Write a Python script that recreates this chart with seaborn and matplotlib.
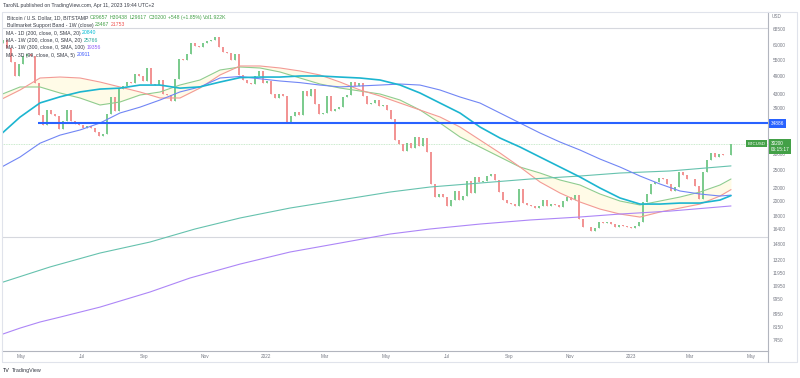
import numpy as np
import pandas as pd
import seaborn as sns
import matplotlib.pyplot as plt
import matplotlib.dates as mdates
from matplotlib.transforms import blended_transform_factory
from matplotlib.lines import Line2D
from matplotlib.ticker import FixedLocator, NullLocator, FixedFormatter

# BTCUSD (BITSTAMP) closes, one every 4 days from 2021-04-13 to 2023-04-11
close = [63500, 60000, 54000, 49000, 53500, 56500, 57500, 56500, 46500, 37000,
         34500, 38500, 37300, 36800, 33500, 35500, 38500, 35500, 34700, 34500,
         33800, 34200, 33800, 32800, 31800, 32300, 37300, 42000, 38200, 44600,
         45600, 47000, 46700, 49500, 49000, 47100, 51800, 46100, 46000, 47700,
         43000, 42700, 41000, 48000, 55300, 54700, 57400, 62000, 60700, 60300,
         61900, 62900, 63300, 64900, 60100, 58100, 57600, 54800, 57200, 49400,
         47600, 46700, 46200, 48900, 50800, 46500, 47300, 43100, 41800, 43100,
         42300, 35100, 36900, 37900, 37000, 43900, 42400, 44500, 40000, 37300,
         37700, 42500, 38100, 38800, 39300, 42200, 42900, 46800, 45500, 46600,
         42300, 40100, 40500, 41400, 39500, 39700, 38500, 36000, 31000, 30100,
         28700, 30300, 29200, 31700, 29700, 31400, 28400, 22600, 20600, 21100,
         20700, 19300, 20200, 21600, 20200, 20800, 23200, 21300, 23800, 23000,
         23200, 23900, 24300, 23300, 21400, 20200, 19800, 19600, 19300, 21800,
         19700, 19500, 19300, 19100, 19300, 20200, 19400, 19600, 19500, 19200,
         20100, 20600, 20200, 21000, 17600, 16600, 16700, 16200, 16500, 17200,
         17100, 17200, 17000, 16600, 16900, 16800, 16600, 16500, 16800, 17200,
         19900, 21100, 22700, 22900, 23700, 23500, 22700, 21600, 22200, 24600,
         24200, 23500, 23400, 22400, 20300, 24700, 26900, 28300, 27500, 28000,
         27800, 27900, 30200]
first_open = 62000
candle_dates = pd.date_range('2021-04-13', periods=len(close), freq='4D')

# moving averages, read every 20 days from 2021-04-10 plus the last bar
ma_dates = pd.date_range('2021-04-10', periods=37, freq='20D').append(
    pd.DatetimeIndex(['2023-04-11']))
ma_1d_200 = [32100, 36500, 40400, 42200, 43700, 44600, 44900, 45900, 45900, 44900,
             45300, 46900, 48400, 48600, 48600, 48970, 48970, 48600, 48270, 47590,
             45920, 43370, 40370, 37590, 34020, 31440, 29490, 27450, 25560, 23800,
             22000, 20490, 19620, 19620, 19760, 19760, 20190, 20840]
ma_3d_99 = [25400, 27450, 30300, 32100, 33300, 35000, 37600, 39200, 41250, 43700,
            45300, 48270, 48800, 48000, 47250, 46700, 45900, 45300, 45600, 45900,
            46240, 45900, 44310, 42150, 40370, 37590, 35000, 32590, 30560, 28860,
            27060, 25560, 23970, 22640, 21540, 21080, 20780, 20911]
band_sma = [42750, 45270, 45270, 43370, 41850, 39810, 40670, 42750, 43680, 45920,
            47590, 51110, 52220, 51850, 50390, 48270, 46240, 44940, 43990, 43060,
            41250, 38410, 35000, 31680, 29490, 27450, 25560, 24490, 23300, 22480,
            21080, 20050, 19490, 20050, 20630, 21380, 22480, 23467]
band_ema = [41250, 44310, 48270, 48610, 48270, 46900, 45270, 43680, 41850, 41850,
            44940, 49320, 52600, 52600, 51850, 50750, 49320, 46900, 44310, 42450,
            40370, 38410, 36540, 34020, 31000, 28250, 25560, 22970, 21230, 19910,
            18930, 18270, 17880, 18540, 19070, 19620, 20780, 21753]

ma_1w_200_dates = ['2021-04-10', '2021-05-30', '2021-07-19', '2021-09-07', '2021-10-22',
                   '2021-12-06', '2022-01-25', '2022-03-16', '2022-05-05', '2022-06-14',
                   '2022-08-03', '2022-09-22', '2022-11-11', '2022-12-21', '2023-02-09',
                   '2023-04-11']
ma_1w_200 = [11160, 12520, 13830, 14960, 16420, 17760, 19070, 20190, 21380, 22160,
             22800, 23460, 23970, 24490, 24850, 25766]
ma_1w_300_dates = ['2021-04-10', '2021-04-30', '2021-05-20', '2021-06-09', '2021-07-19',
                   '2021-09-07', '2021-10-17', '2021-12-06', '2022-01-25', '2022-03-16',
                   '2022-05-05', '2022-06-14', '2022-08-03', '2022-09-22', '2022-11-11',
                   '2022-12-21', '2023-02-09', '2023-04-11']
ma_1w_300 = [7700, 8090, 8450, 8750, 9400, 10470, 11570, 12780, 13930, 14850,
             15840, 16420, 17010, 17510, 17890, 18270, 18660, 19356]

resistance = 34886
ath_level = 68789
low_level = 15460
last_price = 30200

price_ticks = [68500, 61000, 55000, 49000, 43000, 39000, 28000, 25000, 22000,
               20000, 18000, 16400, 14800, 13200, 11950, 10950, 9950, 8950, 8150, 7450]
month_ticks = ['2021-05-01', '2021-07-01', '2021-09-01', '2021-11-01', '2022-01-01',
               '2022-03-01', '2022-05-01', '2022-07-01', '2022-09-01', '2022-11-01',
               '2023-01-01', '2023-03-01', '2023-05-01']
month_labels = ['May', 'Jul', 'Sep', 'Nov', '2022', 'Mar', 'May', 'Jul', 'Sep', 'Nov',
                '2023', 'Mar', 'May']

# colours
UP, DOWN = '#7ccb8e', '#f29494'
C_CYAN, C_BLUE, C_GREEN, C_RED = '#1cb5d0', '#7186f5', '#8fcc8f', '#f39a95'
C_TEAL, C_PURPLE, C_LINE = '#66c2ae', '#ad86f7', '#2962ff'
GREY, DARK, BORDER = '#787b86', '#363a45', '#e0e3eb'

sns.set_style('white')
plt.rcParams['font.family'] = ['Liberation Sans', 'DejaVu Sans']

W, H = 800, 378
fig = plt.figure(figsize=(8, 3.78), dpi=100)
ax = fig.add_axes([2 / W, 1 - 351 / H, 766 / W, 339 / H])

# bull market support band fill
ax.fill_between(ma_dates, band_sma, band_ema, color='#fff3a0', alpha=0.25, lw=0, zorder=1)

# candles (open = previous close)
opens = np.array([first_open] + close[:-1], dtype=float)
closes = np.array(close, dtype=float)
xnum = mdates.date2num(candle_dates)
cols = [UP if c >= o else DOWN for o, c in zip(opens, closes)]
lo = np.minimum(opens, closes)
hi = np.maximum(opens, closes)
ax.vlines(xnum, lo, hi, colors=cols, lw=0.5, zorder=2)
ax.bar(xnum, hi - lo, bottom=lo, width=2.0, color=cols, lw=0, zorder=2)

# moving averages
lines = [
    (ma_dates, band_sma, C_GREEN, 0.8),
    (ma_dates, band_ema, C_RED, 0.8),
    (pd.to_datetime(ma_1w_200_dates), ma_1w_200, C_TEAL, 0.8),
    (pd.to_datetime(ma_1w_300_dates), ma_1w_300, C_PURPLE, 0.8),
    (ma_dates, ma_3d_99, C_BLUE, 0.8),
    (ma_dates, ma_1d_200, C_CYAN, 1.2),
]
for xs, ys, c, lw in lines:
    sns.lineplot(x=xs, y=ys, color=c, lw=lw, ax=ax, estimator=None, sort=False, zorder=3)

# horizontal levels
start = mdates.date2num(pd.Timestamp('2021-05-18'))
ax.axhline(ath_level, color='#d6d8de', lw=0.8, zorder=1)
ax.axhline(low_level, color='#d6d8de', lw=0.8, zorder=1)
ax.axhline(last_price, color='#b9e3bd', lw=0.6, ls=(0, (1, 1)), zorder=1)
ax.hlines(resistance, start, mdates.date2num(pd.Timestamp('2023-06-30')), color=C_LINE,
          lw=1.5, zorder=4)

# scales
ax.set_yscale('log')
ax.set_ylim(6870, 77340)
ax.set_xlim(pd.Timestamp('2021-04-12'), pd.Timestamp('2023-05-18'))
ax.yaxis.tick_right()
ax.yaxis.set_major_locator(FixedLocator(price_ticks))
ax.yaxis.set_major_formatter(FixedFormatter([str(v) for v in price_ticks]))
ax.yaxis.set_minor_locator(NullLocator())
ax.tick_params(axis='y', length=0, pad=3.5, labelsize=3.4, labelcolor=GREY)
ax.set_xticks(pd.to_datetime(month_ticks))
ax.set_xticklabels(month_labels)
ax.tick_params(axis='x', length=0, pad=2.5, labelsize=3.4, labelcolor=GREY)
ax.set_xlabel('')
ax.set_ylabel('')
for s in ['top', 'left']:
    ax.spines[s].set_visible(False)
for s in ['bottom', 'right']:
    ax.spines[s].set_color('#b2b5be')
    ax.spines[s].set_linewidth(0.8)

# price labels on the scale
trans = blended_transform_factory(ax.transAxes, ax.transData)
ax.annotate(str(resistance), xy=(1.0, resistance), xycoords=trans, xytext=(1.8, 0),
            textcoords='offset points', ha='left', va='center', color='white', fontsize=3.4,
            bbox=dict(boxstyle='square,pad=0.35', fc=C_LINE, ec='none'),
            annotation_clip=False, zorder=10)
ax.annotate('30200\n06:15:17', xy=(1.0, last_price), xycoords=trans, xytext=(1.8, 1.9),
            textcoords='offset points', ha='left', va='top', color='white', fontsize=3.4,
            linespacing=1.25,
            bbox=dict(boxstyle='square,pad=0.4', fc='#43a047', ec='none'),
            annotation_clip=False, zorder=10)
ax.annotate('BTCUSD', xy=(1.0, last_price), xycoords=trans, xytext=(-1.8, 0),
            textcoords='offset points', ha='right', va='center', color='white', fontsize=3.2,
            bbox=dict(boxstyle='square,pad=0.4', fc='#43a047', ec='none'),
            annotation_clip=False, zorder=10)

# frame lines around the chart
def fline(x0, y0, x1, y1, c=BORDER, lw=0.8):
    fig.add_artist(Line2D([x0 / W, x1 / W], [1 - y0 / H, 1 - y1 / H], color=c, lw=lw))

fline(2, 12, 797, 12)
fline(2, 362, 797, 362)
fline(2, 12, 2, 362)
fline(797, 12, 797, 362)
fline(768, 351, 768, 362, c='#b2b5be')

# header and legend texts
fig.canvas.draw()
renderer = fig.canvas.get_renderer()


def seg_text(x_px, y_px, parts, size=3.7):
    x = x_px
    for s, c in parts:
        t = fig.text(x / W, 1 - y_px / H, s, color=c, fontsize=size, ha='left', va='center')
        x += t.get_window_extent(renderer).width + 1.6


fig.text(3 / W, 1 - 6 / H, 'TaroNL published on TradingView.com, Apr 11, 2023 19:44 UTC+2',
         color=DARK, fontsize=3.7, ha='left', va='center')
G = '#43a047'
seg_text(7, 17.5, [('Bitcoin / U.S. Dollar, 1D, BITSTAMP', DARK), ('O29657', G),
                   ('H30438', G), ('L29617', G), ('C30200', G), ('+548 (+1.85%)', G),
                   ('Vol1.922K', G)])
seg_text(7, 25, [('Bullmarket Support Band - 1W (close)', DARK), ('23467', G),
                 ('21753', '#ef5350')])
seg_text(6, 33, [('MA - 1D (200, close, 0, SMA, 20)', DARK), ('20840', '#00bcd4')])
seg_text(6, 40.5, [('MA - 1W (200, close, 0, SMA, 20)', DARK), ('25766', '#26a69a')])
seg_text(6, 47.5, [('MA - 1W (300, close, 0, SMA, 100)', DARK), ('19356', '#8f5cf7')])
seg_text(6, 55, [('MA - 3D (99, close, 0, SMA, 5)', DARK), ('20911', '#3d5afe')])

fig.text(772 / W, 1 - 16 / H, 'USD', color=GREY, fontsize=3.4, ha='left', va='center')
seg_text(3, 370.5, [('TV', '#131722'), ('TradingView', DARK)], size=3.9)

fig.savefig('out.png', dpi=100)
